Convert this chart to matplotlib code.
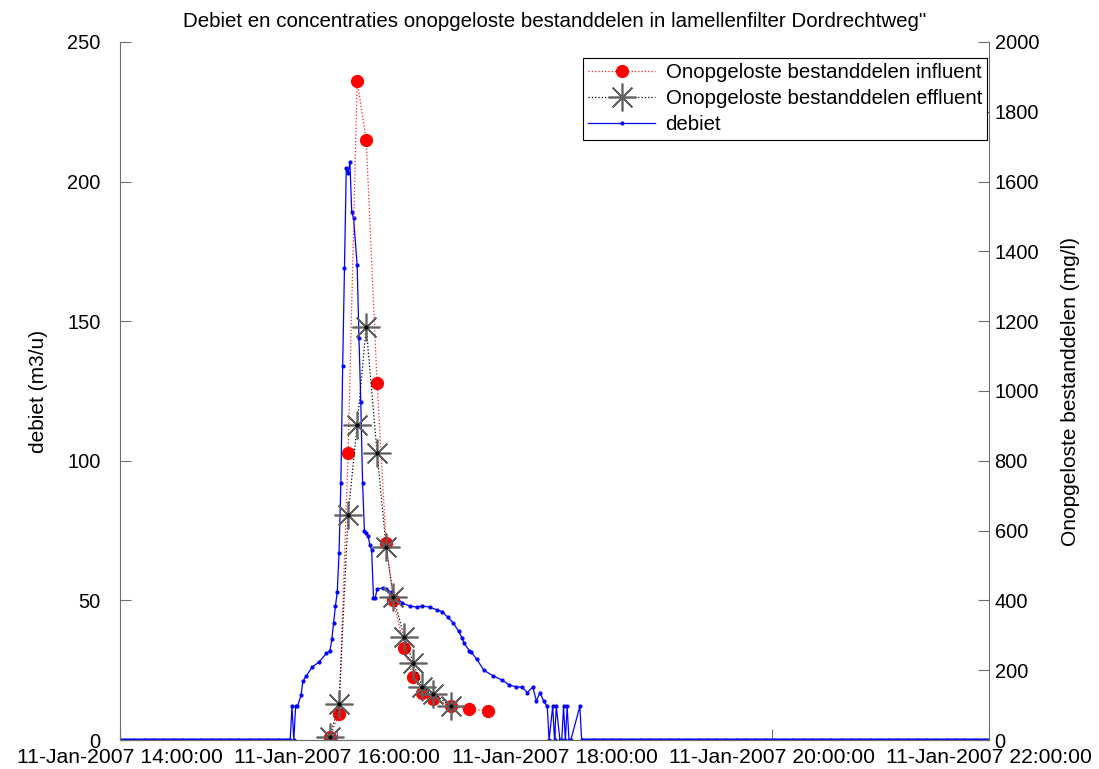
import numpy as np
import pandas as pd
import matplotlib
matplotlib.use("Agg")
from matplotlib import pyplot as plt
import matplotlib.dates as mdates
import matplotlib.ticker as ticker

plt.rcParams['font.family'] = ['Liberation Sans', 'DejaVu Sans']
plt.rcParams['font.size'] = 14.4

start = pd.Timestamp("2007-01-11 14:00:00")

# debiet (m3/u), minutes after 14:00 ; zero before and after the event
zero_before_min = np.arange(0, 94)
event_min = [94, 95, 96, 97, 98, 100, 101, 103, 106, 110, 114, 116, 117, 118, 119,
             120, 121, 122, 123, 124, 125, 126, 127, 128, 129, 131, 132, 133, 134,
             135, 136, 137, 138, 139, 140, 141, 142, 145, 147, 150, 153, 156, 160,
             164, 167, 171, 175, 178, 181, 184, 187, 189, 190, 193, 194, 197, 201,
             206, 211, 215, 219, 222, 225, 228, 230, 232, 234, 236, 237, 239, 240,
             241, 243, 244, 245, 246, 247, 248, 249, 254, 255]
event_val = [0, 12, 0, 12, 12, 16, 21, 23, 26, 28, 31, 32, 36, 42, 48,
             53, 67, 92, 134, 169, 205, 203, 207, 189, 187, 170, 144, 121, 92,
             75, 74, 73, 70, 68, 51, 51, 54, 54.5, 54, 53, 51, 49, 48,
             47.6, 48, 47.6, 46.6, 46, 44, 42, 39, 36.5, 34.7, 32, 31.5, 29, 25,
             23, 21.5, 19.7, 19, 19, 17, 19, 14, 17, 14, 12, 0, 12, 0,
             12, 0, 0, 12, 0, 12, 0, 0, 12, 0]
zero_after_min = np.arange(256, 481)

# onopgeloste bestanddelen (mg/l)
infl_min = [116, 121, 126, 131, 136, 142, 147, 151, 157, 162, 167, 173, 183, 193, 203]
infl_val = [10, 74, 822, 1888, 1719, 1023, 564, 401, 264, 181, 135, 117, 97, 89, 83]
effl_min = [116, 121, 126, 131, 136, 142, 147, 151, 157, 162, 167, 173, 183]
effl_val = [10, 103, 645, 903, 1183, 822, 553, 410, 295, 221, 152, 132, 97]

deb_min = np.concatenate([zero_before_min, event_min, zero_after_min])
deb_val = np.concatenate([np.zeros(len(zero_before_min)), event_val,
                          np.zeros(len(zero_after_min))])


def to_time(m):
    return start + pd.to_timedelta(np.asarray(m, dtype=float), unit="min")


fig = plt.figure(figsize=(10.99, 7.69), dpi=100)
ax1 = fig.add_axes([120 / 1099, 1 - 740 / 769, 869 / 1099, 698 / 769])
ax2 = ax1.twinx()

l_deb, = ax1.plot(to_time(deb_min), deb_val, color="#0000ff", lw=0.9,
                  marker=".", ms=4, label="debiet")
l_inf, = ax2.plot(to_time(infl_min), infl_val, color="#ff2020", ls=":", lw=0.9,
                  marker="o", ms=8.5, mfc="red", mec="red",
                  label="Onopgeloste bestanddelen influent")
l_eff, = ax2.plot(to_time(effl_min), effl_val, color="black", ls=":", lw=0.9,
                  marker=(8, 2, 0), ms=20, mec="#606060", mew=1.2,
                  label="Onopgeloste bestanddelen effluent")
ax2.plot(to_time(effl_min), effl_val, ls="none", marker=".", ms=4, color="black")

ax1.set_xlim(start, start + pd.Timedelta(hours=8))
ax1.set_ylim(0, 250)
ax2.set_ylim(0, 2000)
ax1.yaxis.set_major_locator(ticker.MultipleLocator(50))
ax2.yaxis.set_major_locator(ticker.MultipleLocator(200))
ax1.xaxis.set_major_locator(mdates.HourLocator(byhour=[14, 16, 18, 20, 22]))
ax1.xaxis.set_major_formatter(mdates.DateFormatter("%d-%b-%Y %H:%M:%S"))

for ax in (ax1, ax2):
    ax.spines["top"].set_visible(False)
    for s in ("left", "right", "bottom"):
        ax.spines[s].set_color("#6e6e6e")
    ax.tick_params(direction="in", length=8, color="#6e6e6e", pad=4)
ax2.spines["left"].set_visible(False)
ax1.spines["right"].set_visible(False)
ax1.tick_params(axis="y", pad=14)
ax1.tick_params(axis="x", pad=6, labelsize=15.2)

ax1.set_ylabel("debiet (m3/u)", fontsize=15, labelpad=14)
ax2.set_ylabel("Onopgeloste bestanddelen (mg/l)", fontsize=15, labelpad=16)
ax1.set_title('Debiet en concentraties onopgeloste bestanddelen in lamellenfilter Dordrechtweg"',
              fontsize=14.8, pad=11)

leg = ax2.legend(handles=[l_inf, l_eff, l_deb], loc="upper right",
                 bbox_to_anchor=(1 - 2 / 869, 1 - 16 / 698), borderaxespad=0,
                 fontsize=14.7, handlelength=3.3, labelspacing=0.35, fancybox=False,
                 edgecolor="black", framealpha=1, numpoints=1, borderpad=0.25,
                 handletextpad=0.5)
leg.get_frame().set_linewidth(0.8)

fig.savefig("out.png", dpi=100)
